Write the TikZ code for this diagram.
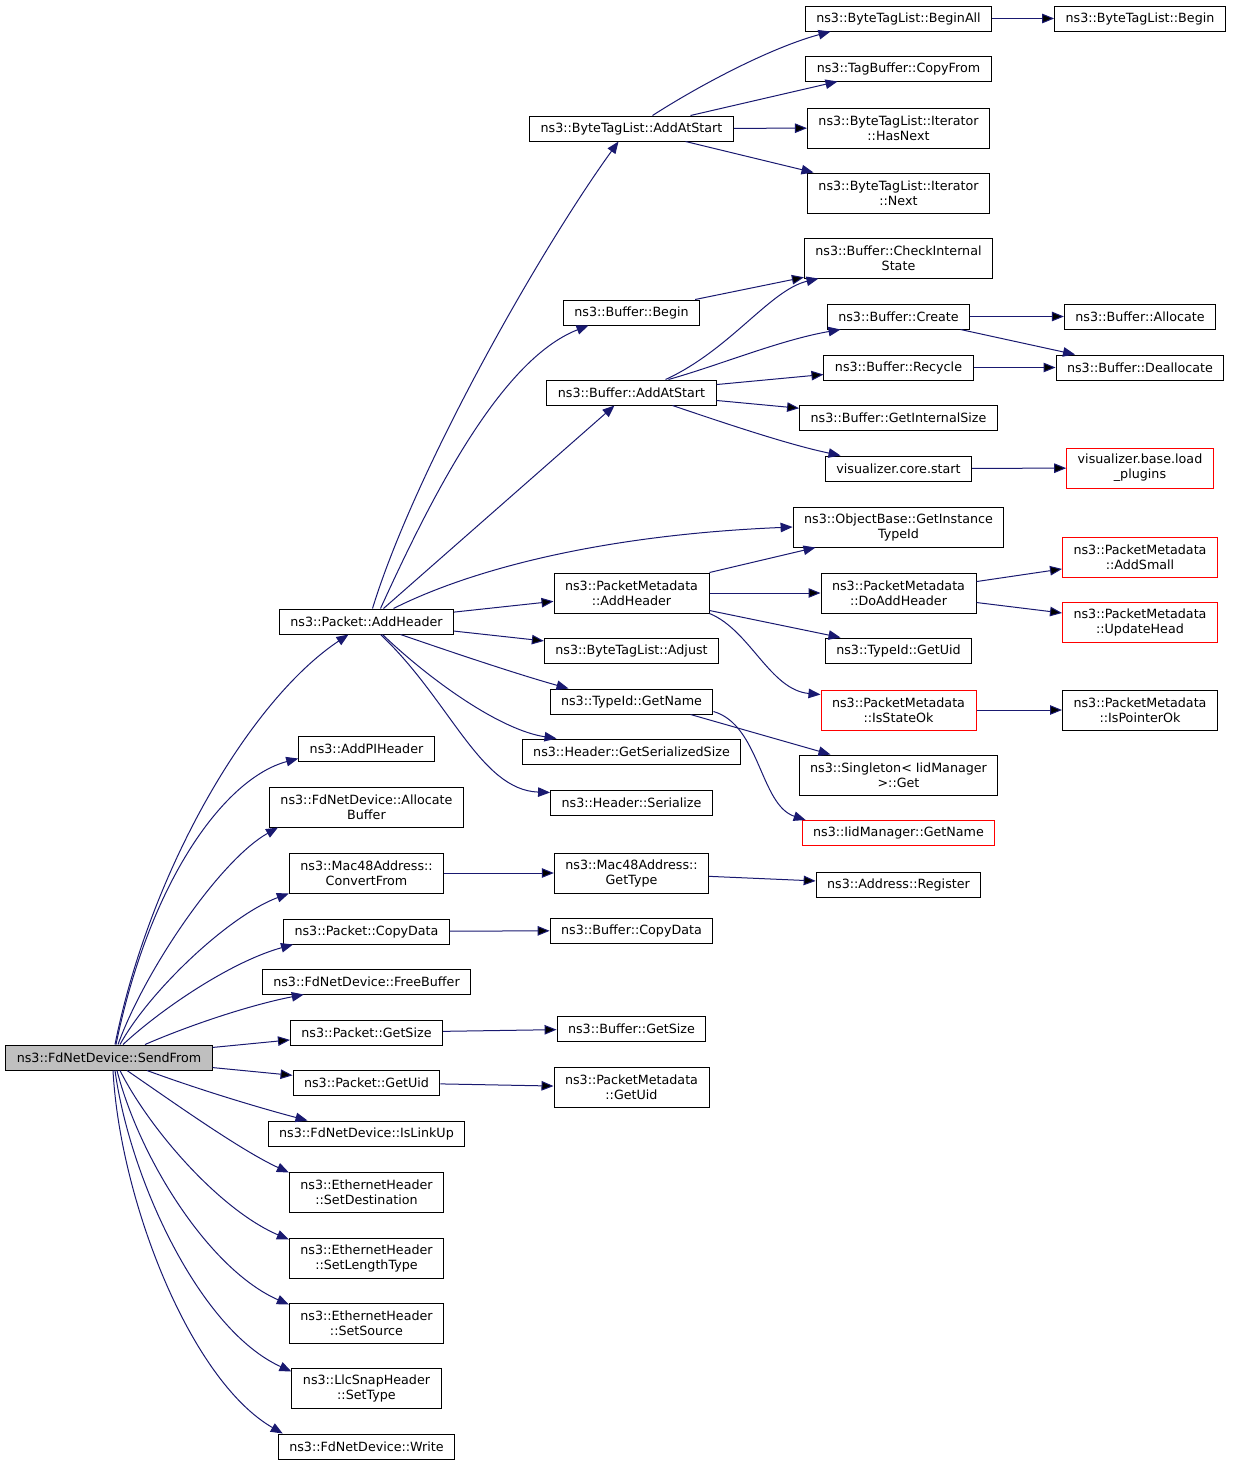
\documentclass[tikz,border=0pt]{standalone}
\usepackage{fontspec}
\setmainfont{DejaVu Sans}
\usetikzlibrary{arrows.meta}

\definecolor{callblue}{HTML}{191970}
\definecolor{rootgray}{HTML}{BFBFBF}
\tikzset{
    fn/.style={draw=black, line width=1pt, inner xsep=11pt, inner ysep=0pt,
        minimum height=25pt, align=center, font=\fontsize{12.7}{15}\selectfont},
    fn2/.style={fn, minimum height=40pt},
    undoc/.style={draw=red},
    call/.style={draw=callblue, line width=1pt, -{Triangle[length=12pt,width=9.5pt]}}
}

\begin{document}
\begin{tikzpicture}[x=1pt, y=-1pt]
    \useasboundingbox (0,0) rectangle (1232,1467);

    % caller
    \node[fn, fill=rootgray] (root) at (109,1057.5) {ns3::FdNetDevice::SendFrom};

    % direct callees
    \node[fn]  (pah) at (366.5,621.5)  {ns3::Packet::AddHeader};
    \node[fn]  (pih) at (366.5,748.5)  {ns3::AddPIHeader};
    \node[fn2] (alb) at (366.5,807)    {ns3::FdNetDevice::Allocate\\Buffer};
    \node[fn2] (mcf) at (366.5,873)    {ns3::Mac48Address::\\ConvertFrom};
    \node[fn]  (pcd) at (366.5,931.5)  {ns3::Packet::CopyData};
    \node[fn]  (ffb) at (366.5,981.5)  {ns3::FdNetDevice::FreeBuffer};
    \node[fn]  (pgs) at (366.5,1032.5) {ns3::Packet::GetSize};
    \node[fn]  (pgu) at (366.5,1082.5) {ns3::Packet::GetUid};
    \node[fn]  (liu) at (366.5,1133.5) {ns3::FdNetDevice::IsLinkUp};
    \node[fn2] (esd) at (366.5,1192)   {ns3::EthernetHeader\\::SetDestination};
    \node[fn2] (esl) at (366.5,1258)   {ns3::EthernetHeader\\::SetLengthType};
    \node[fn2] (ess) at (366.5,1323)   {ns3::EthernetHeader\\::SetSource};
    \node[fn2] (lst) at (366.5,1388)   {ns3::LlcSnapHeader\\::SetType};
    \node[fn]  (fwr) at (366.5,1446.5) {ns3::FdNetDevice::Write};

    % third column
    \node[fn]  (bta) at (631.5,128.5)  {ns3::ByteTagList::AddAtStart};
    \node[fn]  (bbg) at (631.5,312.5)  {ns3::Buffer::Begin};
    \node[fn]  (bas) at (631.5,392.5)  {ns3::Buffer::AddAtStart};
    \node[fn2] (pma) at (631.5,593)    {ns3::PacketMetadata\\::AddHeader};
    \node[fn]  (adj) at (631.5,650.5)  {ns3::ByteTagList::Adjust};
    \node[fn]  (tgn) at (631.5,701.5)  {ns3::TypeId::GetName};
    \node[fn]  (hgs) at (631.5,751.5)  {ns3::Header::GetSerializedSize};
    \node[fn]  (hsr) at (631.5,802.5)  {ns3::Header::Serialize};
    \node[fn2] (mgt) at (631.5,873)    {ns3::Mac48Address::\\GetType};
    \node[fn]  (bcd) at (631.5,930.5)  {ns3::Buffer::CopyData};
    \node[fn]  (bgs) at (631.5,1028.5) {ns3::Buffer::GetSize};
    \node[fn2] (pmu) at (631.5,1087.5) {ns3::PacketMetadata\\::GetUid};

    % fourth column
    \node[fn]  (bal) at (898.5,18.5)   {ns3::ByteTagList::BeginAll};
    \node[fn]  (tcf) at (898.5,68.5)   {ns3::TagBuffer::CopyFrom};
    \node[fn2] (ihn) at (898.5,128)    {ns3::ByteTagList::Iterator\\::HasNext};
    \node[fn2] (inx) at (898.5,193)    {ns3::ByteTagList::Iterator\\::Next};
    \node[fn2] (cis) at (898.5,258)    {ns3::Buffer::CheckInternal\\State};
    \node[fn]  (bcr) at (898.5,316.5)  {ns3::Buffer::Create};
    \node[fn]  (brc) at (898.5,367.5)  {ns3::Buffer::Recycle};
    \node[fn]  (gis) at (898.5,417.5)  {ns3::Buffer::GetInternalSize};
    \node[fn]  (vcs) at (898.5,468.5)  {visualizer.core.start};
    \node[fn2] (oig) at (898.5,527)    {ns3::ObjectBase::GetInstance\\TypeId};
    \node[fn2] (dah) at (898.5,593)    {ns3::PacketMetadata\\::DoAddHeader};
    \node[fn]  (tgu) at (898.5,650.5)  {ns3::TypeId::GetUid};
    \node[fn2, undoc] (iso) at (898.5,710) {ns3::PacketMetadata\\::IsStateOk};
    \node[fn2] (sgt) at (898.5,775)    {ns3::Singleton< IidManager\\>::Get};
    \node[fn, undoc] (img) at (898.5,833) {ns3::IidManager::GetName};
    \node[fn]  (arg) at (898.5,884.5)  {ns3::Address::Register};

    % fifth column
    \node[fn]  (btb) at (1140,18.5)    {ns3::ByteTagList::Begin};
    \node[fn]  (alc) at (1140,316.5)   {ns3::Buffer::Allocate};
    \node[fn]  (dal) at (1140,367.5)   {ns3::Buffer::Deallocate};
    \node[fn2, undoc] (lpl) at (1140,468)   {visualizer.base.load\\\_plugins};
    \node[fn2, undoc] (ads) at (1140,557.5) {ns3::PacketMetadata\\::AddSmall};
    \node[fn2, undoc] (uph) at (1140,622.5) {ns3::PacketMetadata\\::UpdateHead};
    \node[fn2] (ipo) at (1140,710)     {ns3::PacketMetadata\\::IsPointerOk};

    % calls from SendFrom
    \draw[call] ([xshift=6pt]root.north) .. controls (150,870) and (250,700) .. ([xshift=-18pt]pah.south);
    \draw[call] ([xshift=7pt]root.north) .. controls (150,880) and (225,778) .. ([yshift=3pt]pih.south west);
    \draw[call] ([xshift=9pt]root.north) .. controls (145,970) and (220,860) .. ([xshift=9pt]alb.south west);
    \draw[call] ([xshift=11pt]root.north) .. controls (150,990) and (230,915) .. (mcf.south west);
    \draw[call] ([xshift=14pt]root.north) .. controls (160,1010) and (230,962) .. ([xshift=10pt]pcd.south west);
    \draw[call] ([xshift=36pt]root.north) .. controls (190,1025) and (250,1005) .. ([xshift=42pt]ffb.south west);
    \path[call] (root) edge (pgs);
    \path[call] (root) edge (pgu);
    \draw[call] ([xshift=38pt]root.south) .. controls (200,1090) and (260,1108) .. ([xshift=-59pt]liu.north);
    \draw[call] ([xshift=18pt]root.south) .. controls (170,1100) and (240,1150) .. ([yshift=-1pt]esd.north west);
    \draw[call] ([xshift=11pt]root.south) .. controls (150,1130) and (220,1210) .. ([yshift=-2pt]esl.north west);
    \draw[call] ([xshift=8pt]root.south) .. controls (140,1160) and (210,1270) .. ([yshift=-2pt]ess.north west);
    \draw[call] ([xshift=6pt]root.south) .. controls (130,1180) and (200,1330) .. ([yshift=-4pt]lst.north west);
    \draw[call] ([xshift=4pt]root.south) .. controls (120,1200) and (190,1380) .. ([xshift=5pt]fwr.north west);

    % calls from Packet::AddHeader
    \draw[call] ([xshift=6pt]pah.north) .. controls (415,470) and (540,250) .. ([xshift=-13pt]bta.south);
    \draw[call] ([xshift=14pt]pah.north) .. controls (430,500) and (500,360) .. ([xshift=-43pt]bbg.south);
    \draw[call] ([xshift=17pt]pah.north) -- ([xshift=-17pt]bas.south);
    \draw[call] ([xshift=27pt]pah.north) .. controls (470,570) and (600,535) .. (oig.west);
    \path[call] (pah) edge (pma);
    \path[call] (pah) edge (adj);
    \draw[call] ([xshift=34pt]pah.south) .. controls (460,655) and (520,675) .. ([xshift=-63pt]tgn.north);
    \draw[call] ([xshift=16pt]pah.south) .. controls (430,680) and (500,730) .. ([xshift=-75pt]hgs.north);
    \draw[call] ([xshift=14pt]pah.south) .. controls (450,700) and (480,790) .. ([yshift=-3pt]hsr.north west);

    % ByteTagList
    \draw[call] ([xshift=21pt]bta.north) .. controls (700,85) and (770,48) .. ([xshift=-68pt]bal.south);
    \draw[call] ([xshift=59pt]bta.north) -- ([xshift=-61pt]tcf.south);
    \path[call] (bta) edge (ihn);
    \draw[call] ([xshift=54pt]bta.south) -- ([xshift=-85pt]inx.north);
    \path[call] (bal) edge (btb);

    % Buffer
    \path[call] (bbg) edge (cis);
    \draw[call] ([xshift=34pt]bas.north) .. controls (730,350) and (770,290) .. ([xshift=-80pt]cis.south);
    \draw[call] ([xshift=37pt]bas.north) .. controls (720,365) and (780,340) .. ([xshift=-58pt]bcr.south);
    \path[call] (bas) edge (brc);
    \path[call] (bas) edge (gis);
    \draw[call] ([xshift=41pt]bas.south) .. controls (730,425) and (790,445) .. ([xshift=-58pt]vcs.north);
    \path[call] (bcr) edge (alc);
    \draw[call] ([xshift=62pt]bcr.south) -- ([xshift=-65pt]dal.north);
    \path[call] (brc) edge (dal);
    \path[call] (vcs) edge (lpl);

    % PacketMetadata
    \draw[call] (pma.north east) -- ([xshift=-83pt]oig.south);
    \path[call] (pma) edge (dah);
    \draw[call] ([yshift=3pt]pma.south east) -- ([xshift=-58pt]tgu.north);
    \draw[call] (pma.south east) .. controls (750,630) and (770,690) .. ([yshift=-5pt]iso.north west);
    \path[call] (dah) edge (ads);
    \path[call] (dah) edge (uph);
    \path[call] (iso) edge (ipo);

    % TypeId
    \draw[call] ([xshift=59pt]tgn.south) -- ([xshift=-68pt]sgt.north);
    \draw[call] ([yshift=-10pt]tgn.east) .. controls (760,725) and (760,805) .. ([xshift=4pt]img.north west);

    % the rest
    \path[call] (mcf) edge (mgt);
    \path[call] (mgt) edge (arg);
    \path[call] (pcd) edge (bcd);
    \path[call] (pgs) edge (bgs);
    \path[call] (pgu) edge (pmu);
\end{tikzpicture}
\end{document}
